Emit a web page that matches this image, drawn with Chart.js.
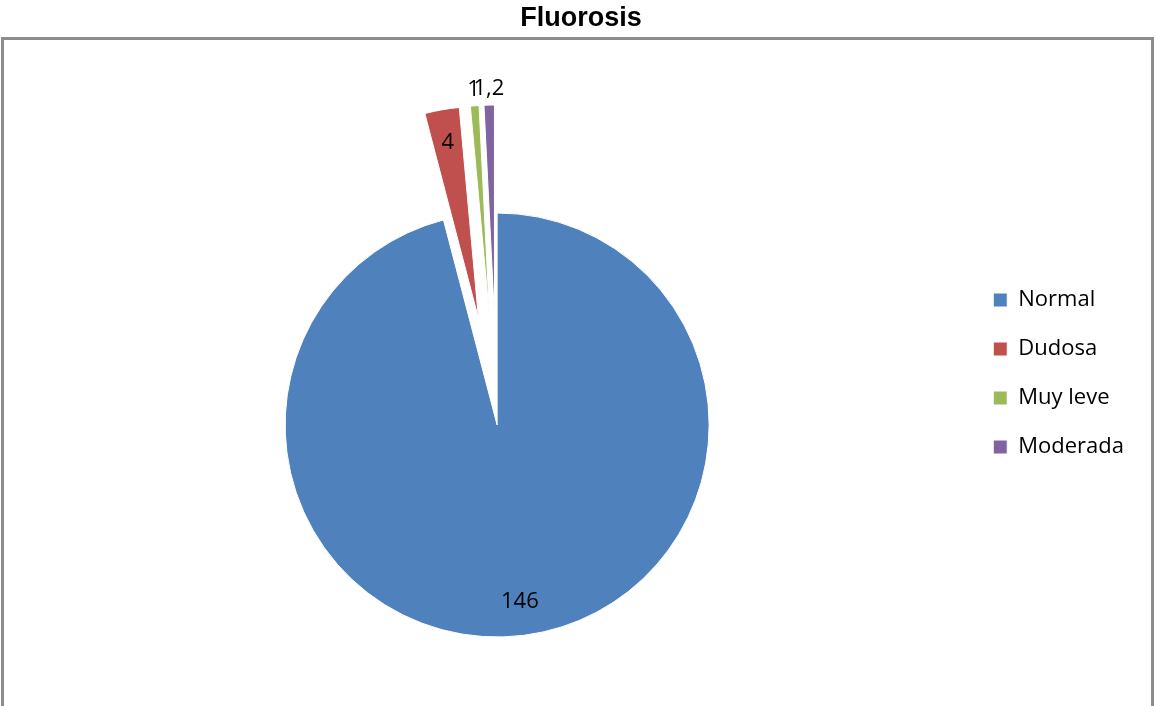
<!DOCTYPE html>
<html>
<head>
<meta charset="utf-8">
<title>Fluorosis</title>
<script src="https://cdn.jsdelivr.net/npm/chart.js@4/dist/chart.umd.min.js"></script>
<style>
  html, body { margin: 0; padding: 0; background: #fff; overflow: hidden; }
  #wrap { width: 1155px; height: 706px; position: relative; }
</style>
</head>
<body>
<div id="wrap"><canvas id="chart"></canvas></div>
<script>
// values
const categories = ['Normal', 'Dudosa', 'Muy leve', 'Moderada'];
const values = [146, 4, 1, 1.2];
const colors = ['#4F81BD', '#C0504D', '#9BBB59', '#8064A2'];

const labelFont = '"Open Sans", "Noto Sans", sans-serif';

// pulls the small slices out along their own middle angle
const explodePlugin = {
  id: 'explode',
  afterDatasetUpdate(chart, args) {
    const ds = chart.data.datasets[args.index];
    const dist = ds.explode || [];
    args.meta.data.forEach((arc, i) => {
      const d = dist[i] || 0;
      if (!d) return;
      const mid = (arc.startAngle + arc.endAngle) / 2;
      arc.x += Math.cos(mid) * d;
      arc.y += Math.sin(mid) * d;
    });
  }
};

// value labels, inside for wide slices and just outside for thin ones
const valueLabels = {
  id: 'valueLabels',
  afterDatasetsDraw(chart) {
    const ctx = chart.ctx;
    const meta = chart.getDatasetMeta(0);
    ctx.save();
    ctx.font = '22px ' + labelFont;
    ctx.fillStyle = '#000';
    ctx.textAlign = 'center';
    ctx.textBaseline = 'middle';
    meta.data.forEach((arc, i) => {
      const mid = (arc.startAngle + arc.endAngle) / 2;
      const wide = (arc.endAngle - arc.startAngle) > 0.1;
      const r = wide ? arc.outerRadius * 0.84 : arc.outerRadius + 16;
      const txt = String(values[i]).replace('.', ',');
      ctx.fillText(txt, arc.x + Math.cos(mid) * r, arc.y + Math.sin(mid) * r);
    });
    ctx.restore();
  }
};

// grey frame of the plot area
const frame = {
  id: 'frame',
  beforeDraw(chart) {
    const ctx = chart.ctx;
    ctx.save();
    ctx.strokeStyle = '#8c8c8c';
    ctx.lineWidth = 3;
    ctx.strokeRect(2.5, 38.5, chart.width - 5, chart.height);
    ctx.restore();
  }
};

new Chart(document.getElementById('chart'), {
  type: 'pie',
  data: {
    labels: categories,
    datasets: [{
      data: values,
      backgroundColor: colors,
      borderColor: '#ffffff',
      borderWidth: 1,
      explode: [0, 108, 108, 108],
      clip: false
    }]
  },
  options: {
    responsive: true,
    maintainAspectRatio: false,
    animation: false,
    events: [],
    radius: 212,
    layout: { padding: { left: 28, right: 21, top: 0, bottom: 118 } },
    plugins: {
      title: {
        display: true,
        text: 'Fluorosis',
        color: '#000',
        font: { family: '"Liberation Sans", Arial, sans-serif', size: 27, weight: 'bold', lineHeight: 1.2 },
        padding: { top: 2, bottom: 227.6 }
      },
      legend: {
        position: 'right',
        align: 'start',
        fullSize: false,
        labels: {
          color: '#000',
          boxWidth: 14,
          boxHeight: 14,
          padding: 27,
          font: { family: labelFont, size: 22 }
        }
      },
      tooltip: { enabled: false }
    }
  },
  plugins: [explodePlugin, valueLabels, frame]
});
</script>
</body>
</html>
